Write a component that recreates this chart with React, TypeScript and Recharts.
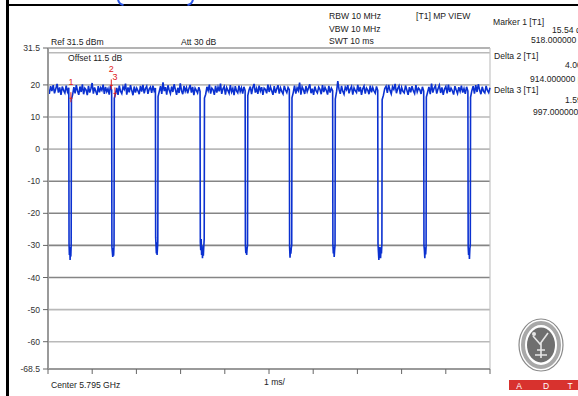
import { LineChart, Line, XAxis, YAxis, ReferenceLine, ReferenceDot } from "recharts";

// sweep 10 ms, pulse gaps (falling edge, ms)
const dipStarts = [0.47, 1.44, 2.43, 3.44, 4.46, 5.46, 6.44, 7.46, 8.5, 9.5];
const dipWidths = [0.06, 0.06, 0.06, 0.1, 0.06, 0.06, 0.06, 0.1, 0.06, 0.06];
const dipLevels = [
  [-29.5, -33, -30.5, -34.5, -31, -33.5, -30],
  [-30.5, -32, -33.6, -30.8, -33.2, -30],
  [-27.5, -30, -32.5, -29, -33, -31, -29],
  [-29, -31.5, -28, -33, -30, -34, -31, -33.2, -30.5, -28],
  [-30, -32.4, -30.6, -33, -31, -30],
  [-30.5, -33.8, -31, -32.6, -30.8, -30],
  [-30, -32.5, -30.4, -33.6, -31.5, -30],
  [-29.5, -32, -34.5, -30.5, -33.5, -31, -34, -30.5, -32.5, -29.5],
  [-30, -31.5, -34, -30.6, -32.8, -30.5],
  [-30.5, -33, -30.8, -34.2, -31, -30],
];
// burst level between gaps (dBm)
const onLevels = [
  [18.9, 17.2, 19.6, 18.1, 19.9, 17.4, 18.8, 20.3, 17.6, 19.2, 16.9, 19.5, 18.3, 17.5, 19.8, 17.9, 19.1],
  [15.5, 17.0, 19.3, 17.4, 19.9, 18.2, 16.9, 19.5, 17.8, 20.2, 17.1, 19.0, 18.5, 16.8, 19.7, 17.6, 18.9, 20.6, 17.3, 19.2, 18.0, 16.9, 19.6, 17.7, 19.1, 18.3, 20.1, 17.2, 19.4, 17.9, 18.8, 17.0, 19.7, 18.4],
  [15.8, 17.4, 19.1, 16.9, 19.8, 18.0, 17.3, 19.4, 18.6, 20.4, 17.0, 19.2, 17.7, 19.9, 18.3, 16.8, 19.5, 17.6, 19.0, 18.2, 17.1, 19.7, 17.9, 20.0, 17.4, 18.9, 19.6, 17.2, 18.7, 19.3, 17.5, 19.8, 18.1, 19.0],
  [16.4, 18.0, 19.6, 17.2, 20.8, 18.1, 19.3, 17.0, 19.9, 18.4, 17.3, 19.5, 17.8, 20.2, 18.6, 16.9, 19.1, 17.5, 20.5, 18.2, 17.1, 19.7, 18.0, 19.2, 17.4, 18.9, 20.0, 17.6, 19.4, 16.8, 19.0, 18.3, 17.5, 19.3, 18.0],
  [15.9, 17.1, 19.4, 18.2, 20.1, 17.3, 19.0, 18.5, 16.9, 19.7, 17.6, 19.3, 18.0, 20.4, 17.2, 18.8, 19.5, 17.0, 19.2, 18.3, 17.4, 19.9, 17.8, 18.9, 16.8, 19.6, 18.1, 17.5, 19.8, 17.9, 19.1, 17.3, 19.4, 18.2],
  [16.7, 18.4, 19.5, 17.1, 19.2, 20.3, 17.6, 18.9, 17.2, 19.8, 18.1, 19.3, 16.9, 19.0, 18.6, 17.4, 20.1, 17.8, 19.4, 18.2, 16.9, 19.6, 17.5, 18.8, 19.9, 17.3, 19.1, 18.0, 17.2, 19.7, 18.4, 17.6, 19.2, 18.5],
  [16.0, 17.6, 19.8, 17.3, 19.1, 18.2, 20.7, 17.0, 19.4, 18.5, 17.2, 19.6, 17.9, 19.0, 20.2, 17.4, 18.8, 16.9, 19.5, 18.1, 17.5, 19.3, 18.6, 17.1, 19.9, 17.8, 19.2, 18.3, 17.0, 19.7, 17.6, 19.0, 18.2],
  [15.6, 17.9, 21.2, 18.6, 17.2, 19.7, 18.0, 17.1, 19.3, 18.5, 19.9, 17.4, 18.7, 19.5, 17.0, 19.1, 18.2, 17.6, 20.0, 17.9, 19.4, 16.9, 18.8, 19.6, 17.3, 19.0, 18.4, 17.1, 19.8, 17.7, 19.2, 18.1, 17.4, 19.5, 18.3],
  [15.4, 16.8, 18.9, 19.6, 17.5, 20.0, 18.3, 17.2, 19.4, 18.6, 20.3, 17.4, 18.9, 19.7, 17.1, 19.2, 18.0, 17.5, 19.8, 18.4, 16.9, 19.3, 17.7, 19.6, 18.2, 17.3, 19.9, 17.8, 19.0, 18.5, 17.2, 19.4, 18.1],
  [16.2, 17.8, 19.4, 17.1, 20.4, 17.6, 19.0, 19.7, 17.3, 18.8, 19.9, 17.5, 19.2, 16.9, 18.7, 19.5, 17.4, 20.1, 17.8, 19.0, 18.2, 17.0, 19.6, 18.4, 17.3, 19.3, 18.0, 19.8, 17.6, 18.9, 17.2, 19.4, 18.1],
  [16.1, 18.2, 19.6, 17.3, 19.9, 17.8, 20.2, 18.4, 17.1, 19.4, 18.0, 17.5, 19.7, 18.3, 17.6, 19.1],
];

const yTicks = [31.5, 20, 10, 0, -10, -20, -30, -40, -50, -60, -68.5];
const xTicks = [0, 1, 2, 3, 4, 5, 6, 7, 8, 9, 10];
const gridLight = [30, 20, 10, 0, -50, -60];
const gridDark = [-10, -20, -30, -40];
const markers = [
  { id: "1", t: 0.518, v: 15.54 },
  { id: "2", t: 1.432, v: 19.54 },
  { id: "3", t: 1.515, v: 17.04 },
];

function buildTrace() {
  const pts: { t: number; v: number }[] = [];
  let start = 0;
  onLevels.forEach((seg, i) => {
    const end = i < dipStarts.length ? dipStarts[i] : 10;
    seg.forEach((v, k) => pts.push({ t: start + ((end - start) * k) / (seg.length - 1), v }));
    if (i < dipStarts.length) {
      const d = dipLevels[i];
      const s = dipStarts[i];
      const w = dipWidths[i];
      d.forEach((v, k) => pts.push({ t: s + 0.006 + ((w - 0.012) * k) / (d.length - 1), v }));
      start = s + w;
    }
  });
  return pts;
}

const trace = buildTrace();
const font = "'Liberation Sans', Arial, sans-serif";

const txt = (left: number, top: number, s: string, color = "#222") => (
  <div style={{ position: "absolute", left, top, fontSize: 8.6, lineHeight: "8px", color, whiteSpace: "nowrap" }}>{s}</div>
);

export default function App() {
  return (
    <div style={{ position: "absolute", left: 0, top: 0, width: 578, height: 396, background: "#fff", overflow: "hidden", fontFamily: font }}>
      <LineChart width={578} height={396} data={trace} margin={{ top: 48, right: 88, bottom: 19, left: 0 }}>
        {gridLight.map((g) => (
          <ReferenceLine key={"l" + g} y={g} stroke="#b9b9b9" strokeWidth={1.6} />
        ))}
        {gridDark.map((g) => (
          <ReferenceLine key={"d" + g} y={g} stroke="#858585" strokeWidth={1.6} />
        ))}
        <ReferenceLine y={31.5} stroke="#9a9a9a" strokeWidth={1.6} />
        <ReferenceLine x={10} stroke="#c4c4c4" strokeWidth={1.2} />
        <XAxis
          type="number"
          dataKey="t"
          domain={[0, 10]}
          ticks={xTicks}
          height={8}
          axisLine={{ stroke: "#9a9a9a", strokeWidth: 2 }}
          tickLine={{ stroke: "#666" }}
          tickSize={5}
          tickFormatter={() => ""}
        />
        <YAxis
          type="number"
          domain={[-68.5, 31.5]}
          ticks={yTicks}
          width={48}
          interval={0}
          axisLine={{ stroke: "#9a9a9a", strokeWidth: 2 }}
          tickLine={{ stroke: "#666" }}
          tickSize={5}
          tickMargin={3}
          tick={{ fontSize: 8.6, fill: "#333", fontFamily: font }}
        />
        <Line type="linear" dataKey="v" stroke="#0b31d0" strokeWidth={1.6} strokeLinejoin="miter" dot={false} isAnimationActive={false} />
        {markers.map((m) => (
          <ReferenceDot
            key={m.id}
            x={m.t}
            y={m.v}
            shape={(p: any) => (
              <g>
                <line x1={p.cx} y1={p.cy - 7} x2={p.cx} y2={p.cy + 3} stroke="#e02020" strokeWidth={1} />
                <line x1={p.cx - 1.5} y1={p.cy - 1} x2={p.cx + 1.5} y2={p.cy - 1} stroke="#e02020" strokeWidth={1} />
                <text x={p.cx} y={p.cy - 14} textAnchor="middle" fontSize={9} fill="#e02020" fontFamily={font}>
                  {m.id}
                </text>
              </g>
            )}
          />
        ))}
      </LineChart>

      {/* frame, header marks and logo */}
      <div style={{ position: "absolute", left: 6, top: 0, width: 2.5, height: 396, background: "#000" }} />
      <div style={{ position: "absolute", left: 7, top: 4, width: 571, height: 2, background: "#000" }} />
      <svg style={{ position: "absolute", left: 0, top: 0 }} width={578} height={396}>
        <path d="M118 -1 Q118.5 4 123.5 5" stroke="#2a55e8" strokeWidth={2} fill="none" />
        <path d="M193 -1 Q192.5 4 187.5 5" stroke="#2a55e8" strokeWidth={2} fill="none" />
        <ellipse cx={541} cy={345} rx={22} ry={26} fill="#fff" stroke="#8a8a8a" strokeWidth={1.2} />
        <ellipse cx={541} cy={345} rx={18} ry={22} fill="none" stroke="#a8a8a8" strokeWidth={4} />
        <ellipse cx={541} cy={345} rx={14} ry={17.5} fill="#6f6f6f" />
        <path d="M533 336 L540 344 L548 333 M537 350 L545 350 M535 355 L547 355 M541 343 L541 358" stroke="#e6e6e6" strokeWidth={1.6} fill="none" />
        <circle cx={534} cy={334} r={2} fill="#e6e6e6" />
        <rect x={509} y={380} width={69} height={10} fill="#d8322e" />
        <text x={519} y={388.5} fontSize={8.5} fill="#fff" fontFamily={font} textAnchor="middle">A</text>
        <text x={546} y={388.5} fontSize={8.5} fill="#fff" fontFamily={font} textAnchor="middle">D</text>
        <text x={570} y={388.5} fontSize={8.5} fill="#fff" fontFamily={font} textAnchor="middle">T</text>
      </svg>

      {txt(51, 38, "Ref 31.5 dBm")}
      {txt(181, 38, "Att  30 dB")}
      {txt(68, 54, "Offset 11.5 dB")}
      {txt(329, 12, "RBW 10 MHz")}
      {txt(329, 25, "VBW 10 MHz")}
      {txt(329, 37, "SWT 10 ms")}
      {txt(416, 12, "[T1] MP VIEW")}
      {txt(493, 18, "Marker 1 [T1]")}
      {txt(552, 26, "15.54 dBm")}
      {txt(531, 36, "518.000000 µs")}
      {txt(494, 52, "Delta 2 [T1]")}
      {txt(565, 61, "4.00 dB")}
      {txt(530, 75, "914.000000 µs")}
      {txt(494, 86, "Delta 3 [T1]")}
      {txt(565, 96, "1.59 dB")}
      {txt(533, 108, "997.000000 µs")}
      {txt(51, 381, "Center 5.795 GHz")}
      {txt(264, 378, "1 ms/")}
    </div>
  );
}
